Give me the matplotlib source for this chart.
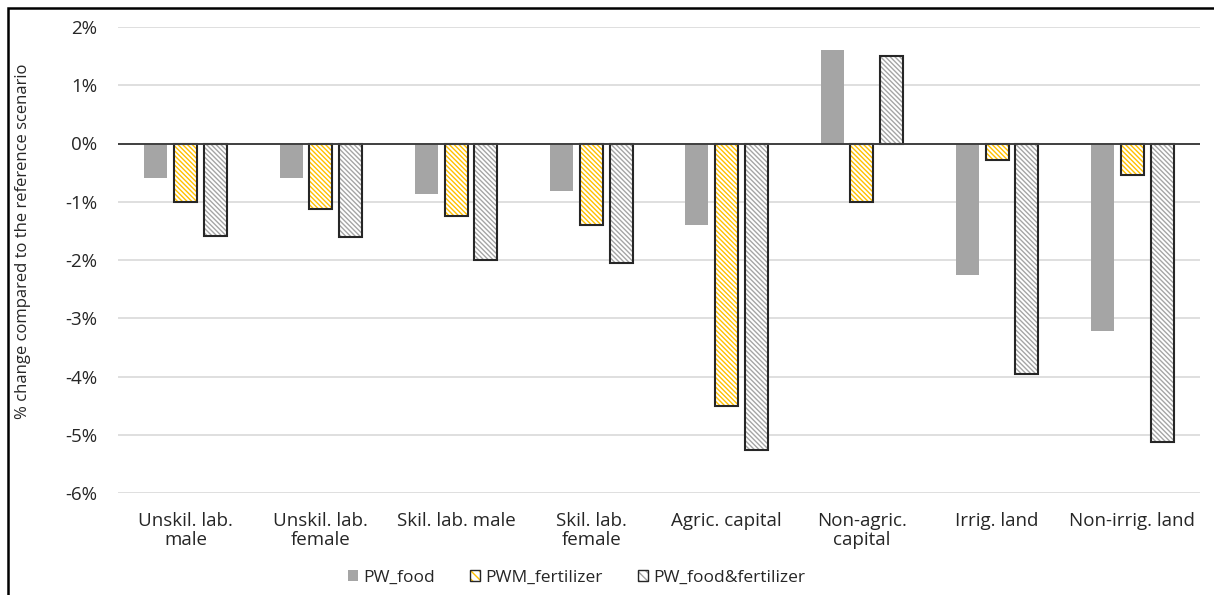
import numpy as np
import matplotlib
matplotlib.use('Agg')
import matplotlib.pyplot as plt
from matplotlib.patches import Rectangle, Patch
from matplotlib.legend_handler import HandlerTuple
from matplotlib.ticker import FuncFormatter

plt.rcParams['font.family'] = ['Open Sans', 'DejaVu Sans']
plt.rcParams['hatch.linewidth'] = 1.0

# data (% change)
categories = ['Unskil. lab.\nmale', 'Unskil. lab.\nfemale', 'Skil. lab. male',
              'Skil. lab.\nfemale', 'Agric. capital', 'Non-agric.\ncapital',
              'Irrig. land', 'Non-irrig. land']
pw_food = [-0.60, -0.59, -0.86, -0.82, -1.40, 1.60, -2.26, -3.22]
pwm_fertilizer = [-1.00, -1.12, -1.24, -1.40, -4.50, -1.00, -0.29, -0.54]
pw_food_fert = [-1.59, -1.60, -2.00, -2.05, -5.26, 1.50, -3.95, -5.12]
series_names = ['PW_food', 'PWM_fertilizer', 'PW_food&fertilizer']

fig = plt.figure(figsize=(12.14, 5.95), dpi=100)
ax = fig.add_axes([118 / 1214, 1 - 493 / 595, (1200 - 118) / 1214, (493 - 27) / 595])

x = np.arange(len(categories))
w = 0.17
step = 0.22
hatch = '\\' * 7
dark = '#262626'

# PW_food: plain grey
ax.bar(x - step, pw_food, w, color='#A5A5A5', linewidth=0, zorder=3)

# PWM_fertilizer: yellow hatch, black outline
ax.bar(x, pwm_fertilizer, w, color='white', edgecolor='#FFC000',
       hatch=hatch, linewidth=0, zorder=3)
ax.bar(x, pwm_fertilizer, w, fill=False, edgecolor=dark, linewidth=1.5, zorder=4)

# PW_food&fertilizer: grey hatch, black outline
ax.bar(x + step, pw_food_fert, w, color='white', edgecolor='#A5A5A5',
       hatch=hatch, linewidth=0, zorder=3)
ax.bar(x + step, pw_food_fert, w, fill=False, edgecolor=dark, linewidth=1.5, zorder=4)

ax.set_xlim(-0.5, len(categories) - 0.5)
ax.set_ylim(-6, 2)
ax.set_yticks(np.arange(-6, 3, 1))
ax.yaxis.set_major_formatter(FuncFormatter(lambda v, p: f'{v:.0f}%'))
ax.grid(axis='y', color='#D9D9D9', linewidth=1.2, zorder=0)
ax.axhline(0, color='#404040', linewidth=1.4, zorder=5)

for s in ax.spines.values():
    s.set_visible(False)
ax.tick_params(axis='both', length=0, labelsize=13.5, colors=dark)
ax.tick_params(axis='y', pad=15)
ax.tick_params(axis='x', pad=14)
ax.set_xticks(x)
ax.set_xticklabels(categories, fontsize=13.5, color=dark, linespacing=1.05)

ax.set_ylabel('% change compared to the reference scenario', fontsize=12, color=dark)
ax.yaxis.set_label_coords(-0.08, 0.54)

outline = Patch(fill=False, edgecolor=dark, linewidth=1.0)
handles = [
    Patch(facecolor='#A5A5A5', linewidth=0),
    (Patch(facecolor='white', edgecolor='#FFC000', hatch='\\' * 4, linewidth=0), outline),
    (Patch(facecolor='white', edgecolor='#A5A5A5', hatch='\\' * 4, linewidth=0), outline),
]
leg = fig.legend(handles, series_names, loc='center', bbox_to_anchor=(0.475, 1 - 578 / 595),
                 ncol=3, frameon=False, fontsize=12.5, handlelength=0.6, handleheight=0.6,
                 handletextpad=0.3, columnspacing=2.0,
                 handler_map={tuple: HandlerTuple(ndivide=1)})
for t in leg.get_texts():
    t.set_color(dark)

# outer chart border (left and top visible in the reference)
fig.patches.append(Rectangle((8 / 1214, -0.1), 1.2, 1 - 8 / 595 + 0.1,
                             transform=fig.transFigure, fill=False,
                             edgecolor='black', linewidth=1.8))

fig.savefig('out.png', dpi=100)
